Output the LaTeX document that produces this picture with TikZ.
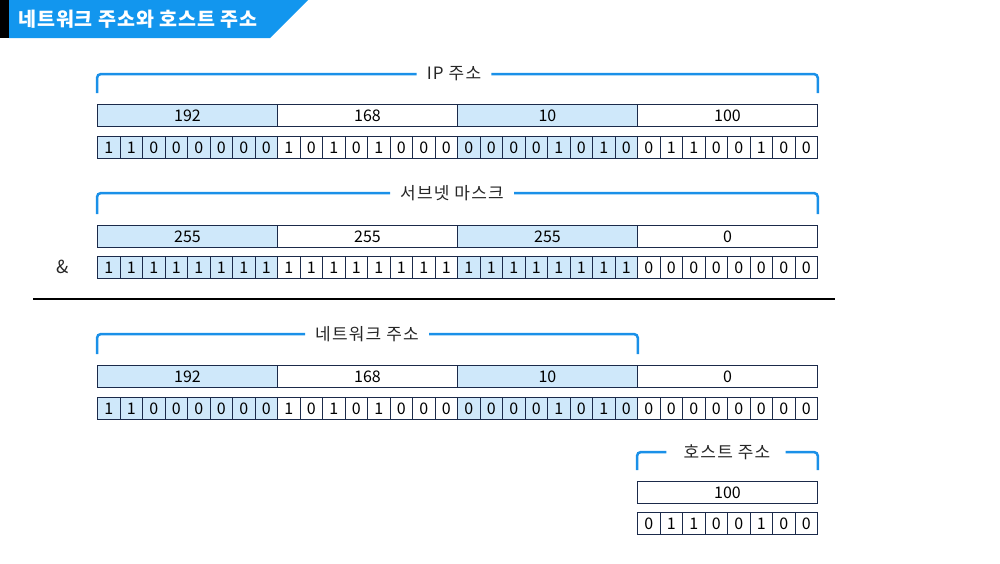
\documentclass[tikz,border=0pt]{standalone}
\usepackage{fontspec}
\setmainfont{Noto Sans CJK KR}
\newfontfamily\lblfont[LetterSpace=7]{Noto Sans CJK KR}
\newfontfamily\ttlfont[LetterSpace=5]{Noto Sans CJK KR}
\definecolor{cellblue}{HTML}{CFE8FA}
\definecolor{edge}{HTML}{1B2A4A}
\definecolor{brk}{HTML}{1A90E8}
\definecolor{ttl}{HTML}{1296EE}
\tikzset{
  cellfont/.style={font=\fontsize{16}{16}\selectfont},
  octet/.style={draw=edge, line width=0.9pt, minimum width=180pt, minimum height=22pt, inner sep=0pt, anchor=north west, cellfont},
  bitcell/.style={draw=edge, line width=0.9pt, minimum width=22.5pt, minimum height=22pt, inner sep=0pt, anchor=north west, cellfont},
  hl/.style={fill=cellblue},
  bracket/.style={draw=brk, line width=2.5pt, rounded corners=4pt},
  lbl/.style={font=\lblfont\fontsize{17}{17}\selectfont, inner sep=0pt, text=black!85},
}
\newcommand\mybits[5]{%
  \foreach \b [count=\i from 0] in {#4} {
    \pgfmathtruncatemacro\oct{\i/8}
    \pgfmathtruncatemacro\hf{(#5==1)&&(mod(\oct,2)==0)}
    \ifnum\hf=1 \def\fillc{cellblue}\else\def\fillc{white}\fi
    \node[bitcell, fill=\fillc] (#1-\i) at ({#2+22.5*\i}, #3) {\b};
  }}
\begin{document}
\begin{tikzpicture}[x=1pt,y=-1pt]
\useasboundingbox (0,0) rectangle (1000,563);
% title
\fill[black] (0,0) rectangle (9,38);
\fill[ttl] (9,0) -- (308,0) -- (270,38) -- (9,38) -- cycle;
\node[anchor=west, text=white, font=\ttlfont\fontsize{19.5}{19.5}\selectfont\bfseries, inner sep=0pt] (title) at (18,19) {네트워크 주소와 호스트 주소};

% ---- IP address
\node[octet, hl] (ipo1) at (97,104) {192};
\node[octet] (ipo2) at (277,104) {168};
\node[octet, hl] (ipo3) at (457,104) {10};
\node[octet] (ipo4) at (637,104) {100};
\mybits{ipb}{97}{136}{1,1,0,0,0,0,0,0,1,0,1,0,1,0,0,0,0,0,0,0,1,0,1,0,0,1,1,0,0,1,0,0}{1}
\node[lbl] (iplbl) at (454,74) {IP 주소};
\draw[bracket] ([xshift=-10pt]iplbl.west) -| ([yshift=11pt]ipo1.north west);
\draw[bracket] ([xshift=10pt]iplbl.east) -| ([yshift=11pt]ipo4.north east);

% ---- subnet mask
\node[octet, hl] (mko1) at (97,225) {255};
\node[octet] (mko2) at (277,225) {255};
\node[octet, hl] (mko3) at (457,225) {255};
\node[octet] (mko4) at (637,225) {0};
\mybits{mkb}{97}{256}{1,1,1,1,1,1,1,1,1,1,1,1,1,1,1,1,1,1,1,1,1,1,1,1,0,0,0,0,0,0,0,0}{1}
\node[lbl] (mklbl) at (452,193) {서브넷 마스크};
\draw[bracket] ([xshift=-10pt]mklbl.west) -| ([yshift=11pt]mko1.north west);
\draw[bracket] ([xshift=10pt]mklbl.east) -| ([yshift=11pt]mko4.north east);
\node[inner sep=0pt, font=\fontsize{18}{18}\selectfont, text=black!85] (amp) at (63,267) {\&};

% separator
\coordinate (sepL) at (33,299);
\coordinate (sepR) at (835,299);
\draw[line width=1.8pt, black] (sepL) -- (sepR);

% ---- network address
\node[octet, hl] (nto1) at (97,365) {192};
\node[octet] (nto2) at (277,365) {168};
\node[octet, hl] (nto3) at (457,365) {10};
\node[octet] (nto4) at (637,365) {0};
\mybits{ntb}{97}{397}{1,1,0,0,0,0,0,0,1,0,1,0,1,0,0,0,0,0,0,0,1,0,1,0,0,0,0,0,0,0,0,0}{1}
\node[lbl] (ntlbl) at (367,334) {네트워크 주소};
\draw[bracket] ([xshift=-10pt]ntlbl.west) -| ([yshift=11pt]nto1.north west);
\draw[bracket] ([xshift=10pt]ntlbl.east) -| ([yshift=11pt]nto3.north east);

% ---- host address
\node[octet] (hso1) at (637,481) {100};
\mybits{hsb}{637}{512}{0,1,1,0,0,1,0,0}{0}
\node[lbl] (hslbl) at (727,452) {호스트 주소};
\draw[bracket] ([xshift=-17pt]hslbl.west) -| ([yshift=11pt]hso1.north west);
\draw[bracket] ([xshift=15pt]hslbl.east) -| ([yshift=11pt]hso1.north east);
\end{tikzpicture}
\end{document}
